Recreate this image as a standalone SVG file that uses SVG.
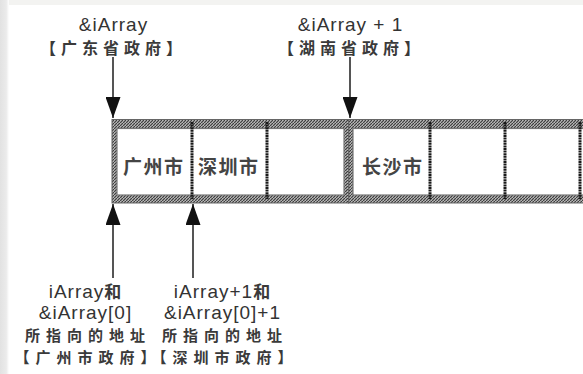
<svg xmlns="http://www.w3.org/2000/svg" width="583" height="374" viewBox="0 0 583 374">
  <style>
    .lat { font-family: "Liberation Sans", "Noto Sans CJK SC", sans-serif; font-size: 19px; letter-spacing: 1px; fill: #333; }
    .cjk { font-family: "Noto Sans CJK SC", sans-serif; font-size: 16px; letter-spacing: 5px; font-weight: bold; fill: #3a3a3a; }
    .cjks { font-family: "Noto Sans CJK SC", sans-serif; font-size: 15px; letter-spacing: 6px; font-weight: bold; fill: #3a3a3a; }
    .cjkm { font-family: "Noto Sans CJK SC", sans-serif; font-size: 17px; font-weight: bold; fill: #3a3a3a; }
    .cell { font-family: "Noto Sans CJK SC", sans-serif; font-size: 19px; letter-spacing: 1.5px; font-weight: bold; fill: #444; }
    .band { fill: url(#hatch); stroke: #666; stroke-width: 1; }
    .inner { fill: #fff; stroke: #777; stroke-width: 1.2; }
    .div { stroke: #1a1a1a; stroke-width: 3; stroke-dasharray: 2 0.6; fill: none; }
    .conn { stroke: #555; stroke-width: 2; fill: none; marker-end: url(#arrow); }
  </style>
  <defs>
    <pattern id="hatch" patternUnits="userSpaceOnUse" width="3" height="3">
      <rect width="3" height="3" fill="#b8b8b8"/>
      <path d="M0,3 L3,0" stroke="#3c3c3c" stroke-width="1.2"/>
    </pattern>
    <linearGradient id="edge" x1="0" y1="0" x2="1" y2="0">
      <stop offset="0" stop-color="#e2e2e2"/>
      <stop offset="0.7" stop-color="#ebebeb"/>
      <stop offset="1" stop-color="#ffffff"/>
    </linearGradient>
    <marker id="arrow" markerUnits="userSpaceOnUse" markerWidth="21" markerHeight="15" refX="21" refY="7.5" orient="auto">
      <path d="M0,0 L21,7.5 L0,15 z" fill="#111"/>
    </marker>
  </defs>

  <rect width="583" height="374" fill="#fff"/>
  <rect x="0" y="0" width="583" height="5" fill="#f3f3f1"/>
  <rect x="0" y="0" width="9" height="374" fill="url(#edge)"/>

  <g id="row0">
    <rect class="band" x="112" y="119.5" width="236.5" height="83.5"/>
    <rect class="inner" x="117" y="128.5" width="227" height="66.5"/>
    <g id="cell0-0"><text class="cell" x="123" y="174">广州市</text></g>
    <g id="cell0-1"><text class="cell" x="198" y="174">深圳市</text></g>
    <g id="cell0-2"/>
    <line class="div" x1="192" y1="122" x2="192" y2="199"/>
    <line class="div" x1="267" y1="122" x2="267" y2="199"/>
  </g>

  <g id="row1">
    <rect class="band" x="348.5" y="119.5" width="250" height="83.5"/>
    <rect class="inner" x="353" y="128.5" width="250" height="66.5"/>
    <g id="cell1-0"><text class="cell" x="362" y="174">长沙市</text></g>
    <g id="cell1-1"/>
    <g id="cell1-2"/>
    <line class="div" x1="430" y1="122" x2="430" y2="199"/>
    <line class="div" x1="505" y1="122" x2="505" y2="199"/>
    <line class="div" x1="580" y1="122" x2="580" y2="199"/>
  </g>

  <g id="label-top-left">
    <text class="lat" x="113.5" y="31" text-anchor="middle">&amp;iArray</text>
    <text class="cjk" x="113.5" y="54" text-anchor="middle">【广东省政府】</text>
  </g>
  <g id="label-top-right">
    <text class="lat" x="350.5" y="31" text-anchor="middle">&amp;iArray + 1</text>
    <text class="cjk" x="351.5" y="54" text-anchor="middle">【湖南省政府】</text>
  </g>
  <g id="label-bottom-left">
    <text class="lat" x="85.5" y="298" text-anchor="middle">iArray<tspan class="cjkm">和</tspan></text>
    <text class="lat" x="85.5" y="319" text-anchor="middle">&amp;iArray[0]</text>
    <text class="cjks" x="88" y="341" text-anchor="middle">所指向的地址</text>
    <text class="cjks" x="88" y="363" text-anchor="middle">【广州市政府】</text>
  </g>
  <g id="label-bottom-right">
    <text class="lat" x="222.5" y="298" text-anchor="middle">iArray+1<tspan class="cjkm">和</tspan></text>
    <text class="lat" x="222.5" y="319" text-anchor="middle">&amp;iArray[0]+1</text>
    <text class="cjks" x="225" y="341" text-anchor="middle">所指向的地址</text>
    <text class="cjks" x="225" y="363" text-anchor="middle">【深圳市政府】</text>
  </g>

  <g id="connectors">
    <line class="conn" x1="113" y1="57" x2="113" y2="118"/>
    <line class="conn" x1="350" y1="57" x2="350" y2="118"/>
    <line class="conn" x1="113" y1="278" x2="113" y2="204"/>
    <line class="conn" x1="193" y1="278" x2="193" y2="204"/>
  </g>
</svg>
